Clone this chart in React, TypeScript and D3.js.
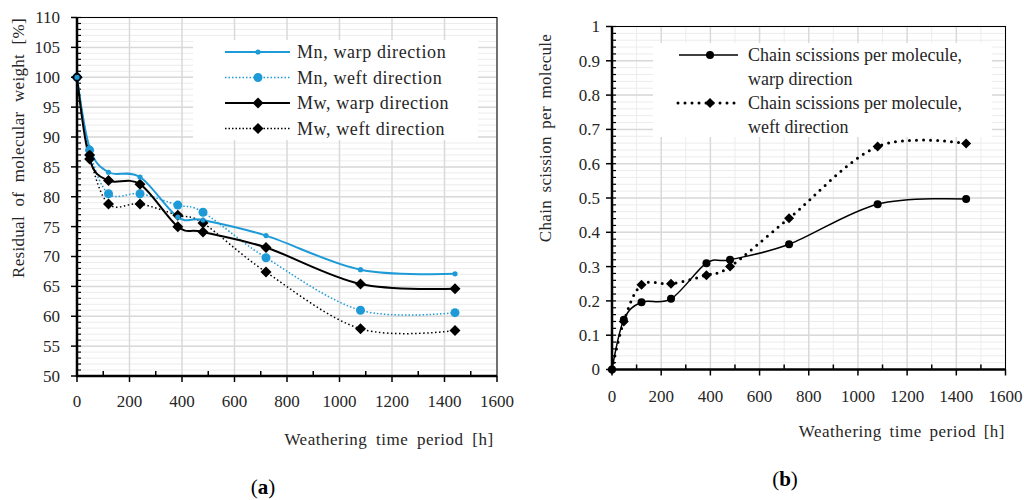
import React from "react";
import * as d3 from "d3";

// ---------- data ----------
const hours = [0, 48, 120, 240, 384, 480, 720, 1080, 1440];
const mnWarp = [100, 88.2, 84.1, 83.3, 76.6, 76.1, 73.5, 67.8, 67.1];
const mnWeft = [100, 87.8, 80.5, 80.5, 78.6, 77.4, 69.8, 61.0, 60.6];
const mwWarp = [100, 86.3, 82.7, 82.1, 75.0, 74.1, 71.5, 65.4, 64.6];
const mwWeft = [100, 87.0, 78.8, 78.8, 76.9, 75.6, 67.4, 57.9, 57.6];

const chainWarp = [0, 0.145, 0.196, 0.206, 0.31, 0.32, 0.365, 0.482, 0.497];
const chainWeft = [0, 0.14, 0.247, 0.25, 0.275, 0.3, 0.441, 0.65, 0.659];

const xTicks = [0, 200, 400, 600, 800, 1000, 1200, 1400, 1600];
const yTicksL = [50, 55, 60, 65, 70, 75, 80, 85, 90, 95, 100, 105, 110];
const yTicksR = [0, 0.1, 0.2, 0.3, 0.4, 0.5, 0.6, 0.7, 0.8, 0.9, 1];

const legendL = ["Mn, warp direction", "Mn, weft direction", "Mw, warp direction", "Mw, weft direction"];
const legendR = [
  ["Chain scissions per molecule,", "warp direction"],
  ["Chain scissions per molecule,", "weft direction"],
];

const BLUE = "#1E9BD7";
const FONT = "'Liberation Serif', 'Times New Roman', serif";
const TXT = "#262626";

const xL = d3.scaleLinear().domain([0, 1600]).range([77, 497]);
const yL = d3.scaleLinear().domain([50, 110]).range([376, 17.5]);
const xR = d3.scaleLinear().domain([0, 1600]).range([612, 1005.5]);
const yR = d3.scaleLinear().domain([0, 1]).range([369.5, 26.5]);

const lineGen = (xs: any, ys: any, vals: number[]) =>
  d3
    .line<number>()
    .x((_, i) => xs(hours[i]))
    .y((v) => ys(v))
    .curve(d3.curveCardinal.tension(0))(vals) as string;

const diamond = (x: number, y: number, r: number) =>
  `M${x},${y - r}L${x + r},${y}L${x},${y + r}L${x - r},${y}Z`;

function Grid({ xs, ys, yMajor, yMinorStep, xMinor }: any) {
  const [y0, y1] = ys.domain();
  const minors = d3.range(y0, y1 + 1e-9, yMinorStep);
  const [xa, xb] = xs.range();
  const [ya, yb] = ys.range();
  return (
    <g>
      {minors.map((v: number, i: number) => (
        <line key={"ym" + i} x1={xa} x2={xb} y1={ys(v)} y2={ys(v)} stroke="#ececec" strokeWidth={1} />
      ))}
      {xMinor &&
        d3.range(100, 1600, 200).map((v) => (
          <line key={"xm" + v} x1={xs(v)} x2={xs(v)} y1={ya} y2={yb} stroke="#ececec" strokeWidth={1} />
        ))}
      {yMajor.map((v: number) => (
        <line key={"yM" + v} x1={xa} x2={xb} y1={ys(v)} y2={ys(v)} stroke="#d9d9d9" strokeWidth={1.5} />
      ))}
      {xTicks.map((v) => (
        <line key={"xM" + v} x1={xs(v)} x2={xs(v)} y1={ya} y2={yb} stroke="#d9d9d9" strokeWidth={1.5} />
      ))}
    </g>
  );
}

function Axes({ xs, ys, yMajor, yMinorStep, yFmt, xLabelY, yLabelX }: any) {
  const [y0, y1] = ys.domain();
  const minors = d3.range(y0, y1 + 1e-9, yMinorStep);
  const [xa, xb] = xs.range();
  const [ya, yb] = ys.range();
  return (
    <g>
      <rect x={xa} y={yb} width={xb - xa} height={ya - yb} fill="none" stroke="#000" strokeWidth={1} />
      {minors.map((v: number, i: number) => (
        <line key={"mt" + i} x1={xa} x2={xa + 4} y1={ys(v)} y2={ys(v)} stroke="#000" strokeWidth={1.2} />
      ))}
      {yMajor.map((v: number) => (
        <g key={"yt" + v}>
          <line x1={xa - 6} x2={xa} y1={ys(v)} y2={ys(v)} stroke="#000" strokeWidth={1.5} />
          <text x={yLabelX} y={ys(v)} dy="0.35em" textAnchor="end" fontFamily={FONT} fontSize={17} fill={TXT}>
            {yFmt(v)}
          </text>
        </g>
      ))}
      {d3.range(100, 1600, 200).map((v) => (
        <line key={"xmt" + v} x1={xs(v)} x2={xs(v)} y1={ya - 5} y2={ya} stroke="#000" strokeWidth={1.5} />
      ))}
      {xTicks.map((v) => (
        <g key={"xt" + v}>
          <line x1={xs(v)} x2={xs(v)} y1={ya} y2={ya + 6} stroke="#000" strokeWidth={1.5} />
          <text x={xs(v)} y={xLabelY} textAnchor="middle" fontFamily={FONT} fontSize={17} fill={TXT}>
            {v}
          </text>
        </g>
      ))}
      <line x1={xa} x2={xa} y1={yb} y2={ya + 1} stroke="#000" strokeWidth={2.5} />
      <line x1={xa - 1} x2={xb} y1={ya} y2={ya} stroke="#000" strokeWidth={2.5} />
    </g>
  );
}

export default function App() {
  const lText = { fontFamily: FONT, fontSize: 18, fill: TXT, letterSpacing: 0.6 } as any;
  return (
    <svg width={1024} height={500} style={{ position: "absolute", left: 0, top: 0, background: "#fff" }}>
      <rect width={1024} height={500} fill="#fff" />
      {/* ---------- panel (a) ---------- */}
      <Grid xs={xL} ys={yL} yMajor={yTicksL} yMinorStep={1} xMinor={false} />
      <rect x={193} y={40} width={285} height={100} fill="#fff" />
      <Axes xs={xL} ys={yL} yMajor={yTicksL} yMinorStep={1} yFmt={(v: number) => String(v)} xLabelY={407} yLabelX={60} />
      <path d={lineGen(xL, yL, mnWeft)} fill="none" stroke={BLUE} strokeWidth={1.5} strokeDasharray="1.5 2" />
      <path d={lineGen(xL, yL, mwWeft)} fill="none" stroke="#000" strokeWidth={1.5} strokeDasharray="1.5 2.5" />
      <path d={lineGen(xL, yL, mnWarp)} fill="none" stroke={BLUE} strokeWidth={2} />
      <path d={lineGen(xL, yL, mwWarp)} fill="none" stroke="#000" strokeWidth={2} />
      {mnWeft.map((v, i) => (
        <circle key={"a" + i} cx={xL(hours[i])} cy={yL(v)} r={4.5} fill={BLUE} />
      ))}
      {mwWeft.map((v, i) => (
        <path key={"b" + i} d={diamond(xL(hours[i]), yL(v), 5.5)} fill="#000" />
      ))}
      {mwWarp.map((v, i) => (
        <path key={"c" + i} d={diamond(xL(hours[i]), yL(v), 5.5)} fill="#000" />
      ))}
      {mnWarp.map((v, i) => (
        <circle key={"d" + i} cx={xL(hours[i])} cy={yL(v)} r={2.6} fill={BLUE} />
      ))}
      {/* legend a */}
      {legendL.map((t, i) => {
        const y = 52 + i * 25.5;
        const col = i < 2 ? BLUE : "#000";
        const dotted = i % 2 === 1;
        return (
          <g key={"la" + i}>
            <line x1={225} x2={290} y1={y} y2={y} stroke={col} strokeWidth={dotted ? 1.5 : 2} strokeDasharray={dotted ? "1.5 2" : undefined} />
            {i === 0 && <circle cx={258} cy={y} r={2.6} fill={col} />}
            {i === 1 && <circle cx={258} cy={y} r={4.5} fill={col} />}
            {i >= 2 && <path d={diamond(258, y, 5.5)} fill="#000" />}
            <text x={297} y={y} dy="0.35em" {...lText}>
              {t}
            </text>
          </g>
        );
      })}
      <text
        transform="translate(24,148) rotate(-90)"
        textAnchor="middle"
        fontFamily={FONT}
        fontSize={17}
        fill={TXT}
        letterSpacing={0.3}
        wordSpacing={5}
      >
        Residual of molecular weight [%]
      </text>
      <text x={389} y={445} textAnchor="middle" fontFamily={FONT} fontSize={17} fill={TXT} letterSpacing={0.5} wordSpacing={4}>
        Weathering time period [h]
      </text>
      <text x={263} y={494} textAnchor="middle" fontFamily={FONT} fontSize={21} fill="#000">
        (<tspan fontWeight="bold">a</tspan>)
      </text>

      {/* ---------- panel (b) ---------- */}
      <Grid xs={xR} ys={yR} yMajor={yTicksR} yMinorStep={0.02} xMinor={true} />
      <rect x={653} y={43} width={339} height={94} fill="#fff" />
      <Axes xs={xR} ys={yR} yMajor={yTicksR} yMinorStep={0.02} yFmt={(v: number) => String(+v.toFixed(1))} xLabelY={402} yLabelX={600} />
      <path d={lineGen(xR, yR, chainWeft)} fill="none" stroke="#000" strokeWidth={3} strokeDasharray="0 7" strokeLinecap="round" />
      <path d={lineGen(xR, yR, chainWarp)} fill="none" stroke="#000" strokeWidth={1.5} />
      {chainWarp.map((v, i) => (
        <circle key={"e" + i} cx={xR(hours[i])} cy={yR(v)} r={4} fill="#000" />
      ))}
      {chainWeft.map((v, i) => (
        <path key={"f" + i} d={diamond(xR(hours[i]), yR(v), 5)} fill="#000" />
      ))}
      {legendR.map((lines, i) => {
        const y = 55 + i * 48;
        return (
          <g key={"lb" + i}>
            <line
              x1={i === 0 ? 679 : 678}
              x2={738}
              y1={y}
              y2={y}
              stroke="#000"
              strokeWidth={i === 0 ? 1.5 : 3}
              strokeDasharray={i === 0 ? undefined : "0 7"}
              strokeLinecap={i === 0 ? "butt" : "round"}
            />
            {i === 0 ? <circle cx={710} cy={y} r={4} fill="#000" /> : <path d={diamond(710, y, 5)} fill="#000" />}
            <text x={748} y={y} dy="0.35em" fontFamily={FONT} fontSize={18} fill={TXT}>
              {lines[0]}
            </text>
            <text x={748} y={y + 23.5} dy="0.35em" fontFamily={FONT} fontSize={18} fill={TXT}>
              {lines[1]}
            </text>
          </g>
        );
      })}
      <text
        transform="translate(551,138) rotate(-90)"
        textAnchor="middle"
        fontFamily={FONT}
        fontSize={17}
        fill={TXT}
        letterSpacing={0.3}
        wordSpacing={3}
      >
        Chain scission per molecule
      </text>
      <text x={1005} y={437} textAnchor="end" fontFamily={FONT} fontSize={17} fill={TXT} letterSpacing={0.5} wordSpacing={3}>
        Weathering time period [h]
      </text>
      <text x={785} y={486} textAnchor="middle" fontFamily={FONT} fontSize={21} fill="#000">
        (<tspan fontWeight="bold">b</tspan>)
      </text>
    </svg>
  );
}
